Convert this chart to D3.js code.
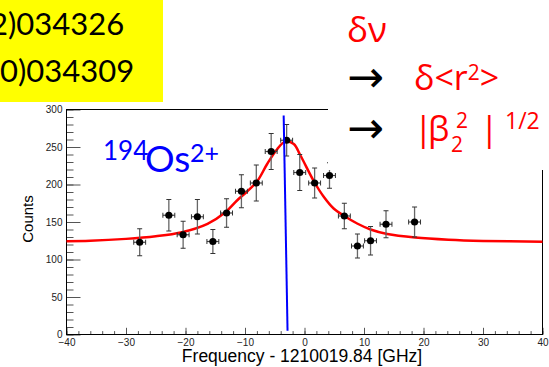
<!DOCTYPE html>
<html>
<head>
<meta charset="utf-8">
<script src="https://cdn.jsdelivr.net/npm/d3@7"></script>
<style>
  body { margin: 0; background: #fff; }
  svg { display: block; }
</style>
</head>
<body>
<svg id="chart" width="549" height="367"></svg>
<script>
const freq = [-27.7, -22.8, -20.4, -18.0, -15.4, -13.1, -10.6, -8.1, -5.6, -3.0, -0.8, 1.7, 4.2, 6.7, 8.9, 11.1, 13.7, 18.5];
const counts = [123, 159, 133, 157, 124, 162, 191, 202, 244, 259, 216, 202, 212, 158, 118, 125, 147, 150];
const countErr = [18, 21, 18, 23, 16, 19, 22, 24, 24, 21, 24, 20, 17, 17, 16, 19, 18, 20];
const freqErr = [1, 1, 1, 1, 1, 1, 1, 1, 1, 1, 1, 1, 1, 1, 1, 1, 1, 1];

// fit curve, sampled by eye
const fitFreq = [-40, -36, -30, -25, -20.8, -16.3, -13.3, -11.3, -9.6, -7.9, -6.3, -4.6, -3.2, -1.8, -0.7, 1.6, 3.2, 4.9, 6.7, 8.85, 11.1, 13.9, 18.6, 24.2, 30, 40];
const fitCounts = [124.4, 125, 127.5, 131, 136, 147.6, 163, 179, 191, 205, 227, 247, 257.5, 254, 239, 204, 184, 168, 158, 148, 140, 134, 129.3, 126.4, 124.8, 123.6];

// centroid marker (blue line)
const markerFreq = [-3.5, -2.85];
const markerCounts = [292, 5];

const xTickValues = [-40, -30, -20, -10, 0, 10, 20, 30, 40];
const yTickValues = [0, 50, 100, 150, 200, 250, 300];
const noteLines = ["2)034326", "0)034309"];

const svg = d3.select("#chart");
const x = d3.scaleLinear().domain([-40, 40]).range([66.5, 542.5]);
const y = d3.scaleLinear().domain([0, 300]).range([334.5, 109.5]);

// --- axes (ticks point inward, ROOT style)
const axesG = svg.append("g").attr("class", "axes");

const styleAxis = g => {
    g.select(".domain").remove();
    g.selectAll(".tick line").attr("stroke", "#555");
    g.selectAll(".tick text")
        .attr("fill", "#222")
        .style("font-family", "'Liberation Sans', Arial, sans-serif")
        .style("font-size", "10px");
};

axesG.append("g")
    .attr("transform", `translate(0,${y(0)})`)
    .call(d3.axisBottom(x).tickValues(d3.range(-40, 41, 2)).tickSize(-3.4).tickFormat(""))
    .call(styleAxis);
axesG.append("g")
    .attr("transform", `translate(0,${y(0)})`)
    .call(d3.axisBottom(x).tickValues(xTickValues).tickSize(-6.7).tickPadding(4))
    .call(styleAxis);

axesG.append("g")
    .attr("transform", `translate(${x(-40)},0)`)
    .call(d3.axisLeft(y).tickValues(d3.range(0, 301, 10)).tickSize(-7).tickFormat(""))
    .call(styleAxis);
axesG.append("g")
    .attr("transform", `translate(${x(-40)},0)`)
    .call(d3.axisLeft(y).tickValues(yTickValues).tickSize(-14).tickPadding(4))
    .call(styleAxis);

// frame
svg.append("rect")
    .attr("x", x(-40))
    .attr("y", y(300))
    .attr("width", x(40) - x(-40))
    .attr("height", y(0) - y(300))
    .attr("fill", "none")
    .attr("stroke", "#000")
    .attr("stroke-width", 1);

// axis titles
svg.append("text")
    .attr("x", 302)
    .attr("y", 362)
    .attr("text-anchor", "middle")
    .style("font-family", "'Liberation Sans', Arial, sans-serif")
    .style("font-size", "17.5px")
    .text("Frequency - 1210019.84 [GHz]");

svg.append("text")
    .attr("transform", "translate(33,219) rotate(-90)")
    .attr("text-anchor", "middle")
    .style("font-family", "'Liberation Sans', Arial, sans-serif")
    .style("font-size", "15px")
    .text("Counts");

// --- fit curve
const line = d3.line()
    .x(d => x(d[0]))
    .y(d => y(d[1]))
    .curve(d3.curveCatmullRom);

svg.append("path")
    .datum(d3.zip(fitFreq, fitCounts))
    .attr("d", line)
    .attr("fill", "none")
    .attr("stroke", "#ff0000")
    .attr("stroke-width", 2.5);

// --- data points with error bars
const pts = freq.map((f, i) => ({ f: f, c: counts[i], ec: countErr[i], ef: freqErr[i] }));
const ptG = svg.append("g").selectAll("g").data(pts).join("g");
const cap = 2.5;

ptG.append("line")
    .attr("x1", d => x(d.f)).attr("x2", d => x(d.f))
    .attr("y1", d => y(d.c - d.ec)).attr("y2", d => y(d.c + d.ec))
    .attr("stroke", "#666").attr("stroke-width", 1.3);
ptG.append("line")
    .attr("x1", d => x(d.f - d.ef)).attr("x2", d => x(d.f + d.ef))
    .attr("y1", d => y(d.c)).attr("y2", d => y(d.c))
    .attr("stroke", "#444").attr("stroke-width", 1.2);
// caps
[-1, 1].forEach(s => {
    ptG.append("line")
        .attr("x1", d => x(d.f) - cap).attr("x2", d => x(d.f) + cap)
        .attr("y1", d => y(d.c + s * d.ec)).attr("y2", d => y(d.c + s * d.ec))
        .attr("stroke", "#333").attr("stroke-width", 1);
    ptG.append("line")
        .attr("x1", d => x(d.f + s * d.ef)).attr("x2", d => x(d.f + s * d.ef))
        .attr("y1", d => y(d.c) - cap).attr("y2", d => y(d.c) + cap)
        .attr("stroke", "#333").attr("stroke-width", 1);
});
ptG.append("circle")
    .attr("cx", d => x(d.f))
    .attr("cy", d => y(d.c))
    .attr("r", 3.6)
    .attr("fill", "#000");

// blue centroid line
svg.append("path")
    .datum(d3.zip(markerFreq, markerCounts))
    .attr("d", d3.line().x(d => x(d[0])).y(d => y(d[1])))
    .attr("stroke", "#0000ff")
    .attr("stroke-width", 2);

// isotope label
const iso = svg.append("text")
    .attr("fill", "#0000ff")
    .style("font-family", "Lato, 'Open Sans', sans-serif");
iso.append("tspan").attr("x", 103).attr("y", 160).style("font-size", "26px").text("194");
iso.append("tspan").attr("x", 145).attr("y", 172).style("font-size", "37px").text("Os");
iso.append("tspan").attr("x", 190).attr("y", 162).style("font-size", "25px").text("2+");

// --- slide overlays
svg.append("rect")
    .attr("x", 0).attr("y", 0)
    .attr("width", 163).attr("height", 102)
    .attr("fill", "#ffff00");

svg.selectAll("text.note")
    .data(noteLines)
    .join("text")
    .attr("class", "note")
    .attr("x", (d, i) => i ? 0 : -10)
    .attr("y", (d, i) => i ? 82 : 35)
    .style("font-family", "Lato, 'Open Sans', sans-serif")
    .style("font-size", "31px")
    .attr("fill", "#000")
    .text(d => d);

// white box covering the frame corner
svg.append("rect")
    .attr("x", 328).attr("y", 0)
    .attr("width", 221).attr("height", 170)
    .attr("fill", "#fff");

const red = "#ff0000";
const gfont = "'Open Sans', 'Noto Sans', sans-serif";

svg.append("text")
    .attr("x", 347).attr("y", 42)
    .attr("fill", red)
    .style("font-family", gfont).style("font-size", "35px")
    .text("δν");

[92, 143].forEach(yy => {
    svg.append("text")
        .attr("x", 347).attr("y", yy)
        .style("font-family", "'DejaVu Sans', sans-serif").style("font-size", "44px")
        .attr("fill", "#000")
        .text("→");
});

const l2 = svg.append("text").attr("fill", red).style("font-family", gfont).style("font-size", "34px");
l2.append("tspan").attr("x", 414).attr("y", 90).text("δ<r");
l2.append("tspan").attr("y", 80).style("font-size", "21px").text("2");
l2.append("tspan").attr("y", 90).text(">");

const l3 = svg.append("text").attr("fill", red).style("font-family", gfont).style("font-size", "34px");
l3.append("tspan").attr("x", 414).attr("y", 141).text("|");
l3.append("tspan").attr("x", 428).attr("y", 141).text("β");
l3.append("tspan").attr("x", 451).attr("y", 152).style("font-size", "21px").text("2");
l3.append("tspan").attr("x", 456).attr("y", 128).style("font-size", "21px").text("2");
l3.append("tspan").attr("x", 480).attr("y", 141).text("|");
l3.append("tspan").attr("x", 505).attr("y", 129).style("font-size", "23px").text("1/2");
</script>
</body>
</html>
